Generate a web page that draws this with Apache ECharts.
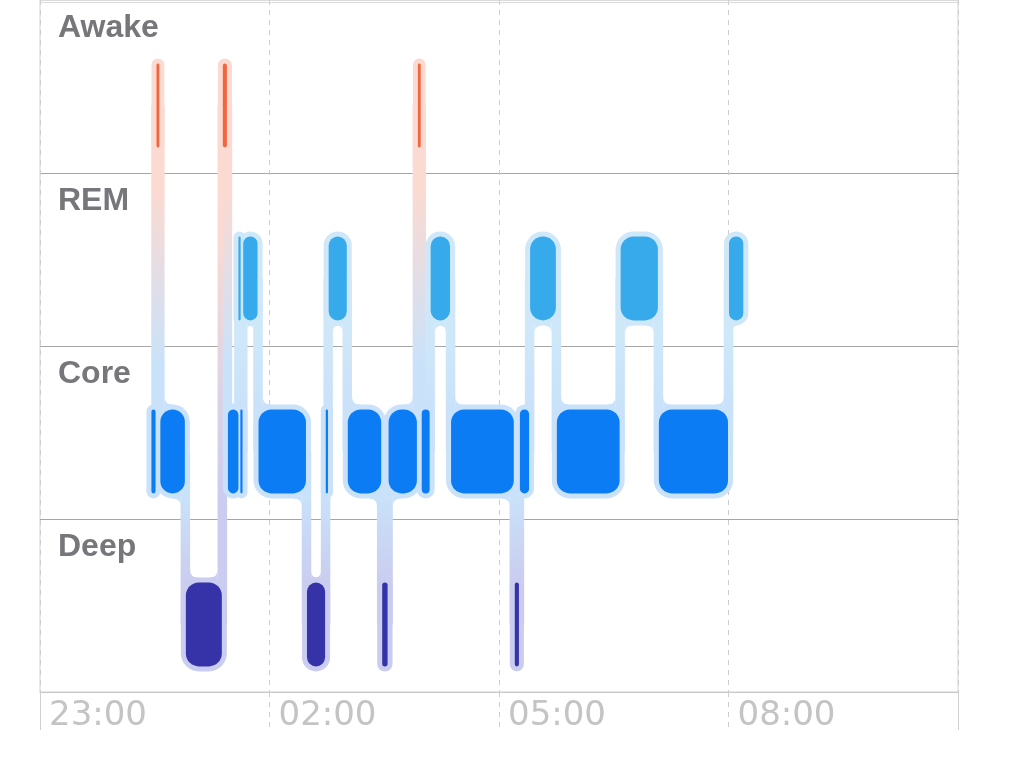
<!DOCTYPE html>
<html><head><meta charset="utf-8">
<script src="https://cdn.jsdelivr.net/npm/echarts@6/dist/echarts.min.js"></script>
<style>html,body{margin:0;padding:0;background:#fff}#c{width:1024px;height:757px}</style>
</head><body><div id="c"></div>
<script>
const stages = ['Deep', 'Core', 'REM', 'Awake'];
const tickLabels = ['23:00', '02:00', '05:00', '08:00', '11:00'];
const segStart = ['00:27','00:31','00:34','00:54','01:23','01:27','01:36','01:37','01:39','01:51','02:29','02:44','02:46','03:01','03:28','03:33','03:56','03:59','04:06','04:22','05:12','05:16','05:24','05:45','06:35','07:05','08:00'];
const segEnd   = ['00:31','00:34','00:54','01:23','01:27','01:36','01:37','01:39','01:51','02:29','02:44','02:46','03:01','03:28','03:33','03:56','03:59','04:06','04:22','05:12','05:16','05:24','05:45','06:35','07:05','08:00','08:12'];
const segStage = ['Core','Awake','Core','Deep','Awake','Core','REM','Core','REM','Core','Deep','Core','REM','Core','Deep','Core','Awake','Core','REM','Core','Deep','Core','REM','Core','REM','Core','REM'];

const barColor  = {Deep:'#3633a9', Core:'#0c7cf5', REM:'#36aaea', Awake:'#f06640'};
const haloColor = {Deep:'#cacdef', Core:'#c9e2fa', REM:'#cfe8f9', Awake:'#fbdad2'};

function toMin(t) {
  const p = t.split(':').map(Number);
  return ((p[0] - 23 + 24) % 24) * 60 + p[1];
}
const data = segStart.map((s, i) => [toMin(s), toMin(segEnd[i]), stages.indexOf(segStage[i])]);

const LO = 0.148, HI = 0.633, PAD = 5, CONN = 9.5, INSET = 0.5, FIL = 8;
const MID = (LO + HI) / 2;

function geom(api, s, e, st) {
  const a = api.coord([s, st + HI]);
  const b = api.coord([e, st + LO]);
  const w = Math.max(b[0] - a[0] - 2 * INSET, 2.2);
  const cx = (a[0] + b[0]) / 2;
  return {x: cx - w / 2, w: w, y: a[1], h: b[1] - a[1], xe: b[0], rad: Math.min(13, w / 2)};
}

function fillet(xEdge, side, yh, dir, f, color) {
  const x2 = xEdge + side * f;
  const yb = yh - 3 * dir;
  return {
    type: 'path',
    shape: {pathData: 'M' + xEdge + ' ' + yb + ' L' + xEdge + ' ' + (yh + dir * f) +
      ' Q' + xEdge + ' ' + yh + ' ' + x2 + ' ' + yh + ' L' + x2 + ' ' + yb + ' Z'},
    style: {fill: color}
  };
}

function haloItem(params, api) {
  const i = params.dataIndex;
  const d = data[i];
  const g = geom(api, d[0], d[1], d[2]);
  const children = [];
  if (i < data.length - 1) {
    const n = data[i + 1];
    const gn = geom(api, n[0], n[1], n[2]);
    const nst = n[2];
    const upper = Math.max(d[2], nst), lower = Math.min(d[2], nst);
    const yTop = api.coord([d[1], upper + MID])[1];
    const yBot = api.coord([d[1], lower + MID])[1];
    const t = g.xe;
    children.push({
      type: 'rect',
      shape: {x: t - CONN / 2, y: yTop, width: CONN, height: yBot - yTop},
      style: {fill: new echarts.graphic.LinearGradient(0, 0, 0, 1, [
        {offset: 0, color: haloColor[stages[upper]]},
        {offset: 0.25, color: haloColor[stages[upper]]},
        {offset: 0.75, color: haloColor[stages[lower]]},
        {offset: 1, color: haloColor[stages[lower]]}
      ])}
    });
    const upIsCur = d[2] === upper;
    const gu = upIsCur ? g : gn, gl = upIsCur ? gn : g;
    const su = upIsCur ? -1 : 1, sl = -su;
    const fu = Math.min(FIL, gu.w + PAD - CONN / 2 - (gu.rad + PAD) + 2);
    const fl = Math.min(FIL, gl.w + PAD - CONN / 2 - (gl.rad + PAD) + 2);
    const yhu = api.coord([d[1], upper + LO])[1] + PAD;
    const yhl = api.coord([d[1], lower + HI])[1] - PAD;
    if (fu >= 2) children.push(fillet(t + su * CONN / 2, su, yhu, 1, fu, haloColor[stages[upper]]));
    if (fl >= 2) children.push(fillet(t + sl * CONN / 2, sl, yhl, -1, fl, haloColor[stages[lower]]));
  }
  children.push({
    type: 'rect',
    shape: {x: g.x - PAD, y: g.y - PAD, width: g.w + 2 * PAD, height: g.h + 2 * PAD, r: g.rad + PAD},
    style: {fill: haloColor[stages[d[2]]]}
  });
  return {type: 'group', children: children};
}

function barItem(params, api) {
  const d = data[params.dataIndex];
  const g = geom(api, d[0], d[1], d[2]);
  return {
    type: 'rect',
    shape: {x: g.x, y: g.y, width: g.w, height: g.h, r: g.rad},
    style: {fill: barColor[stages[d[2]]]}
  };
}

const chart = echarts.init(document.getElementById('c'));
chart.setOption({
  animation: false,
  backgroundColor: '#fff',
  grid: {left: 40, right: 66, top: -4, bottom: 65, show: true, borderColor: '#d0d0d0', borderWidth: 1},
  xAxis: {
    type: 'value', min: 0, max: 720, interval: 180,
    axisLine: {show: true, lineStyle: {color: '#c8c8c8', width: 1}},
    axisTick: {show: true, length: 38, lineStyle: {color: '#cdcdcd', type: [5, 5]}},
    splitLine: {show: true, lineStyle: {color: '#cdcdcd', type: [5, 5]}},
    axisLabel: {
      formatter: v => tickLabels[Math.round(v / 180)],
      align: 'left', padding: [0, 0, 0, 9], margin: 7,
      color: '#c4c4c4', fontSize: 34, fontFamily: 'DejaVu Sans',
      showMaxLabel: false, showMinLabel: true
    }
  },
  yAxis: {
    type: 'value', min: 0, max: 4, interval: 1,
    axisLine: {show: false}, axisTick: {show: false}, axisLabel: {show: false},
    splitLine: {show: true, lineStyle: {color: ['#c8c8c8', '#a6a6a6', '#a6a6a6', '#a6a6a6', '#dcdcdc'], width: 1}}
  },
  series: [
    {type: 'custom', coordinateSystem: 'cartesian2d', data: data, encode: {x: [0, 1], y: 2},
     renderItem: haloItem, z: 2, silent: true, clip: false},
    {type: 'custom', coordinateSystem: 'cartesian2d', data: data, encode: {x: [0, 1], y: 2},
     renderItem: barItem, z: 3, silent: true, clip: false}
  ]
});

const xL = chart.convertToPixel({xAxisIndex: 0}, 0);
const xR = chart.convertToPixel({xAxisIndex: 0}, 720);
const yB = chart.convertToPixel({yAxisIndex: 0}, 0);
const graphics = stages.map((name, k) => ({
  type: 'text',
  x: 58,
  y: chart.convertToPixel({yAxisIndex: 0}, k + 1) + 28,
  z: 10,
  style: {text: name, font: 'bold 32px "Liberation Sans"', fill: '#77777b', verticalAlign: 'middle'}
}));
graphics.push(
  {type: 'line', shape: {x1: xL, y1: 2.5, x2: xR, y2: 2.5}, style: {stroke: '#dadada', lineWidth: 1}, z: 1},
  {type: 'line', shape: {x1: xL + 0.5, y1: yB, x2: xL + 0.5, y2: yB + 38}, style: {stroke: '#d0d0d0', lineWidth: 1}, z: 1},
  {type: 'line', shape: {x1: xR + 0.5, y1: yB, x2: xR + 0.5, y2: yB + 38}, style: {stroke: '#d0d0d0', lineWidth: 1}, z: 1}
);
chart.setOption({graphic: graphics});
</script>
</body></html>
